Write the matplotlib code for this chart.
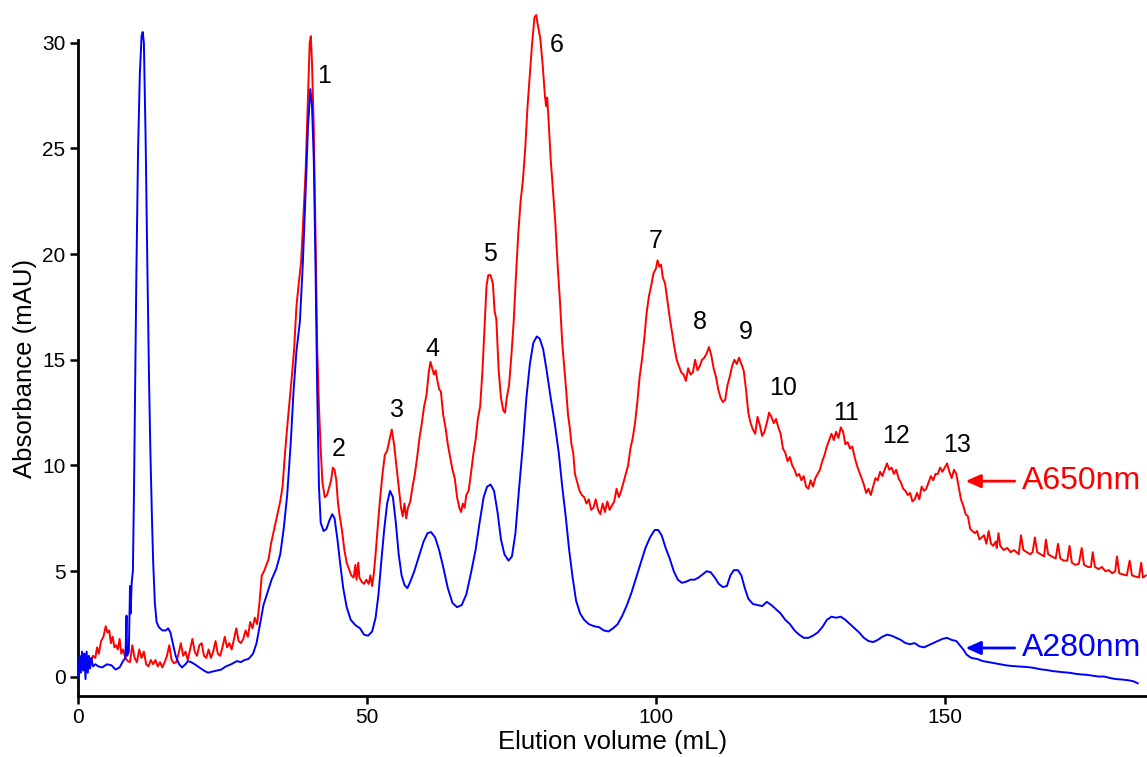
import matplotlib
matplotlib.use("Agg")
import matplotlib.pyplot as plt

plt.rcParams['font.family'] = ['Liberation Sans', 'DejaVu Sans']

# ---- A280 (blue) trace: elution volume (mL), absorbance (mAU)
blue_x = [0.0, 0.3, 0.5, 0.7, 0.9, 1.1, 1.3, 1.5, 1.7, 1.9, 2.1, 2.3, 2.6, 3.0, 3.5, 4.2, 5.0, 5.8, 6.5, 7.2,
          7.8, 8.2, 8.4, 8.5, 8.8, 9.0, 9.1, 9.3, 9.5, 9.7, 9.9, 10.1, 10.4, 10.7, 11.0, 11.2, 11.4, 11.7, 12.0, 12.3,
          12.5, 12.8, 13.0, 13.3, 13.6, 14.0, 14.6, 15.2, 15.6, 16.0, 16.4, 16.9, 17.5, 18.0, 18.6, 19.0, 19.6, 20.2, 21.0, 21.8,
          22.5, 23.2, 24.0, 24.8, 25.6, 26.5, 27.5, 28.2, 28.8, 29.5, 30.3, 30.9, 31.5, 32.1, 32.8, 33.5, 34.3, 35.0, 35.6, 36.2,
          36.8, 37.3, 37.8, 38.4, 38.9, 39.4, 39.8, 40.2, 40.5, 40.8, 41.1, 41.4, 41.7, 42.0, 42.5, 43.0, 43.5, 44.0, 44.4, 44.9,
          45.4, 45.9, 46.5, 47.2, 48.0, 48.8, 49.5, 50.2, 50.9, 51.5, 52.0, 52.5, 53.0, 53.5, 54.0, 54.5, 55.0, 55.5, 56.0, 56.5,
          57.0, 57.5, 58.2, 59.0, 59.8, 60.5, 61.1, 61.8, 62.5, 63.2, 64.0, 64.8, 65.6, 66.4, 67.2, 68.0, 68.8, 69.5, 70.2, 70.8,
          71.4, 72.0, 72.6, 73.2, 73.8, 74.5, 75.1, 75.7, 76.3, 77.0, 77.6, 78.2, 78.8, 79.4, 79.9, 80.5, 81.1, 81.8, 82.5, 83.2,
          83.8, 84.4, 85.0, 85.6, 86.2, 86.9, 87.6, 88.4, 89.3, 90.2, 91.0, 91.8, 92.6, 93.4, 94.2, 95.0, 95.8, 96.6, 97.4, 98.2,
          99.0, 99.8, 100.4, 101.0, 101.7, 102.4, 103.1, 103.8, 104.5, 105.2, 106.0, 106.7, 107.4, 108.1, 108.8, 109.5, 110.2, 110.9, 111.6, 112.3,
          112.9, 113.5, 114.2, 114.8, 115.4, 116.0, 116.8, 117.6, 118.4, 119.2, 120.0, 120.8, 121.6, 122.4, 123.2, 124.0, 124.8, 125.6, 126.4, 127.2,
          128.0, 128.8, 129.6, 130.4, 131.2, 132.0, 132.8, 133.6, 134.4, 135.2, 136.0, 136.8, 137.6, 138.4, 139.2, 140.0, 140.8, 141.6, 142.4, 143.2,
          144.0, 144.8, 145.6, 146.4, 147.2, 148.0, 148.8, 149.6, 150.4, 151.2, 152.0, 152.6, 153.2, 153.8, 154.6, 155.6, 156.6, 157.6, 158.6, 159.6,
          160.6, 161.6, 162.6, 163.6, 164.6, 165.6, 166.6, 167.6, 168.6, 169.6, 170.6, 171.6, 172.6, 173.6, 174.6, 175.6, 176.6, 177.6, 178.6, 179.6,
          180.6, 181.6, 182.6, 183.4]
blue_y = [0.0, 1.0, 0.2, 1.2, 0.3, 1.1, -0.1, 1.2, 0.2, 1.0, 0.4, 0.9, 0.5, 0.6, 0.5, 0.45, 0.6, 0.55, 0.35, 0.45,
          0.75, 0.9, 2.9, 1.0, 1.2, 4.3, 3.0, 4.5, 5.0, 9.0, 14.0, 19.0, 25.0, 28.5, 30.3, 30.5, 30.0, 25.5, 19.5, 14.0,
          11.0, 7.5, 5.5, 3.5, 2.6, 2.35, 2.2, 2.2, 2.3, 2.1, 1.6, 1.0, 0.6, 0.45, 0.6, 0.75, 0.7, 0.6, 0.45, 0.3,
          0.2, 0.25, 0.3, 0.35, 0.5, 0.6, 0.75, 0.7, 0.8, 0.85, 1.1, 1.6, 2.5, 3.4, 4.0, 4.6, 5.1, 5.8, 7.0, 8.6,
          11.0, 13.5, 15.4, 16.8, 19.5, 23.0, 26.0, 27.8, 27.0, 24.5, 19.5, 13.5, 9.0, 7.3, 6.9, 7.0, 7.4, 7.7, 7.5, 6.5,
          5.3, 4.2, 3.3, 2.7, 2.45, 2.3, 2.0, 1.95, 2.15, 2.8, 3.9, 5.5, 7.0, 8.2, 8.8, 8.5, 7.3, 5.8, 4.8, 4.35,
          4.2, 4.5, 5.0, 5.7, 6.4, 6.8, 6.85, 6.6, 6.0, 5.2, 4.2, 3.5, 3.3, 3.4, 3.9, 4.9, 6.0, 7.3, 8.5, 9.0,
          9.1, 8.8, 7.8, 6.5, 5.8, 5.5, 5.7, 6.8, 8.8, 11.0, 13.2, 14.8, 15.8, 16.1, 16.0, 15.5, 14.5, 13.2, 12.0, 10.6,
          9.0, 7.6, 6.0, 4.7, 3.6, 3.0, 2.7, 2.5, 2.4, 2.35, 2.2, 2.15, 2.3, 2.5, 2.9, 3.4, 4.0, 4.7, 5.4, 6.1,
          6.6, 6.95, 6.95, 6.7, 6.1, 5.6, 5.0, 4.6, 4.45, 4.5, 4.6, 4.6, 4.7, 4.85, 5.0, 4.95, 4.7, 4.4, 4.25, 4.3,
          4.8, 5.05, 5.05, 4.8, 4.2, 3.7, 3.45, 3.4, 3.35, 3.55, 3.4, 3.2, 3.0, 2.7, 2.5, 2.2, 2.0, 1.85, 1.85, 1.95,
          2.1, 2.35, 2.7, 2.85, 2.8, 2.85, 2.7, 2.5, 2.3, 2.1, 1.85, 1.7, 1.65, 1.75, 1.9, 2.0, 1.95, 1.85, 1.75, 1.6,
          1.55, 1.6, 1.45, 1.4, 1.5, 1.6, 1.7, 1.8, 1.85, 1.75, 1.7, 1.5, 1.3, 1.05, 0.9, 0.85, 0.75, 0.7, 0.65, 0.6,
          0.55, 0.52, 0.5, 0.48, 0.46, 0.42, 0.36, 0.33, 0.28, 0.25, 0.22, 0.2, 0.15, 0.12, 0.1, 0.06, 0.02, 0.02, -0.05, -0.1,
          -0.12, -0.15, -0.2, -0.3]

# ---- A650 (red) trace
red_x = [0.3, 0.8, 1.2, 1.5, 1.8, 2.2, 2.6, 3.0, 3.3, 3.6, 4.0, 4.4, 4.8, 5.1, 5.4, 5.7, 6.0, 6.3, 6.6, 6.9,
         7.2, 7.5, 7.8, 8.2, 8.6, 9.0, 9.4, 9.8, 10.2, 10.6, 11.0, 11.4, 11.8, 12.2, 12.6, 13.0, 13.4, 13.8, 14.2, 14.6,
         15.0, 15.4, 15.8, 16.2, 16.6, 17.0, 17.4, 17.8, 18.2, 18.6, 19.0, 19.4, 19.8, 20.2, 20.6, 21.0, 21.4, 21.8, 22.2, 22.6,
         23.0, 23.4, 23.8, 24.2, 24.6, 25.0, 25.4, 25.8, 26.2, 26.6, 27.0, 27.4, 27.8, 28.2, 28.6, 29.0, 29.4, 29.8, 30.2, 30.6,
         31.0, 31.4, 31.8, 32.2, 32.6, 33.0, 33.4, 33.8, 34.2, 34.6, 35.0, 35.4, 35.8, 36.2, 36.6, 37.0, 37.4, 37.8, 38.2, 38.6,
         39.0, 39.4, 39.8, 40.1, 40.3, 40.5, 40.8, 41.1, 41.4, 41.7, 42.0, 42.3, 42.7, 43.1, 43.5, 43.8, 44.1, 44.4, 44.7, 45.0,
         45.3, 45.7, 46.1, 46.5, 46.9, 47.3, 47.7, 48.0, 48.2, 48.5, 48.7, 49.1, 49.5, 49.9, 50.3, 50.6, 50.9, 51.2, 51.5, 51.9,
         52.3, 52.7, 53.1, 53.5, 53.9, 54.3, 54.7, 55.1, 55.5, 55.9, 56.2, 56.5, 56.8, 57.1, 57.5, 57.9, 58.3, 58.7, 59.1, 59.5,
         59.9, 60.3, 60.7, 61.0, 61.3, 61.6, 61.9, 62.2, 62.5, 62.8, 63.2, 63.6, 64.0, 64.4, 64.8, 65.2, 65.6, 66.0, 66.3, 66.6,
         66.9, 67.2, 67.6, 68.0, 68.4, 68.8, 69.2, 69.6, 70.0, 70.4, 70.7, 71.0, 71.4, 71.8, 72.1, 72.4, 72.8, 73.2, 73.6, 73.9,
         74.2, 74.6, 75.0, 75.4, 75.8, 76.2, 76.6, 77.0, 77.4, 77.8, 78.2, 78.6, 79.0, 79.3, 79.6, 80.0, 80.4, 80.8, 81.0, 81.2,
         81.4, 81.8, 82.2, 82.6, 83.0, 83.4, 83.8, 84.2, 84.5, 84.8, 85.1, 85.4, 85.7, 86.0, 86.4, 86.8, 87.2, 87.6, 88.0, 88.4,
         88.8, 89.2, 89.6, 90.0, 90.4, 90.8, 91.2, 91.6, 92.0, 92.4, 92.8, 93.2, 93.6, 94.0, 94.4, 94.8, 95.2, 95.6, 96.0, 96.4,
         96.8, 97.2, 97.6, 98.0, 98.4, 98.8, 99.2, 99.6, 100.0, 100.3, 100.6, 100.9, 101.2, 101.6, 102.0, 102.4, 102.8, 103.2, 103.6, 104.0,
         104.4, 104.8, 105.2, 105.6, 106.0, 106.4, 106.8, 107.2, 107.6, 108.0, 108.4, 108.8, 109.2, 109.6, 110.0, 110.4, 110.8, 111.2, 111.6, 112.0,
         112.4, 112.8, 113.2, 113.6, 114.0, 114.4, 114.8, 115.2, 115.6, 116.0, 116.4, 116.8, 117.2, 117.6, 118.0, 118.4, 118.8, 119.2, 119.6, 120.0,
         120.4, 120.8, 121.2, 121.6, 122.0, 122.4, 122.8, 123.2, 123.6, 124.0, 124.4, 124.8, 125.2, 125.6, 126.0, 126.4, 126.8, 127.2, 127.6, 128.0,
         128.4, 128.8, 129.2, 129.6, 130.0, 130.4, 130.8, 131.2, 131.6, 132.0, 132.4, 132.8, 133.2, 133.6, 134.0, 134.4, 134.8, 135.2, 135.6, 136.0,
         136.4, 136.8, 137.2, 137.6, 138.0, 138.4, 138.8, 139.2, 139.6, 140.0, 140.4, 140.8, 141.2, 141.6, 142.0, 142.4, 142.8, 143.2, 143.6, 144.0,
         144.4, 144.8, 145.2, 145.6, 146.0, 146.4, 146.8, 147.2, 147.6, 148.0, 148.4, 148.8, 149.2, 149.6, 150.0, 150.4, 150.8, 151.2, 151.6, 152.0,
         152.4, 152.8, 153.2, 153.6, 154.0, 154.4, 154.8, 155.2, 155.6, 156.0, 156.4, 156.8, 157.2, 157.6, 158.0, 158.4, 158.8, 159.0, 159.3, 159.6,
         160.2, 160.8, 161.4, 162.0, 162.8, 163.2, 163.6, 164.2, 164.8, 165.2, 165.6, 166.0, 166.6, 167.2, 167.5, 167.9, 168.5, 169.2, 169.6, 170.0,
         170.6, 171.2, 171.6, 172.0, 172.6, 173.2, 173.7, 174.1, 174.8, 175.3, 175.6, 176.0, 176.6, 177.2, 177.8, 178.4, 179.0, 179.5, 179.8, 180.2,
         180.8, 181.5, 182.0, 182.4, 183.0, 183.6, 184.0, 184.3, 184.8]
red_y = [0.9, 0.6, 1.1, 0.3, 0.9, 0.7, 1.0, 0.9, 1.4, 1.1, 1.7, 1.9, 2.4, 2.1, 2.2, 1.6, 1.9, 1.4, 1.5, 1.3,
         1.8, 1.1, 1.3, 0.9, 0.75, 0.7, 1.5, 0.9, 0.7, 1.3, 0.9, 1.2, 0.6, 0.5, 0.8, 0.6, 0.8, 0.5, 0.7, 0.45,
         0.7, 1.0, 1.5, 0.8, 0.65, 0.7, 1.1, 1.6, 1.0, 1.2, 0.8, 1.3, 1.8, 1.2, 1.0, 1.5, 1.6, 1.0, 0.9, 1.3,
         0.9, 1.2, 1.7, 1.1, 1.0, 1.4, 1.9, 1.4, 1.6, 1.3, 1.8, 2.3, 1.7, 1.6, 1.8, 2.2, 1.9, 2.6, 2.3, 2.8,
         2.5, 3.5, 4.8, 5.0, 5.3, 5.6, 6.3, 6.8, 7.3, 7.8, 8.3, 9.0, 10.5, 11.8, 13.0, 14.2, 15.5, 17.5, 18.6, 19.6,
         21.7, 24.0, 27.5, 30.0, 30.3, 29.0, 26.0, 21.0, 15.5, 12.8, 10.8, 9.2, 8.5, 8.6, 9.0, 9.3, 9.9, 9.8, 9.3, 8.2,
         7.6, 6.9, 6.0, 5.4, 5.1, 4.8, 4.7, 5.3, 4.6, 5.4, 4.7, 4.5, 4.4, 4.6, 4.4, 4.8, 4.3, 4.9, 5.8, 7.2,
         8.5, 9.6, 10.5, 10.7, 11.2, 11.7, 11.0, 10.0, 9.0, 8.0, 7.6, 8.2, 7.5, 8.0, 8.3, 9.0, 9.6, 10.4, 11.3, 12.0,
         12.8, 13.3, 14.4, 14.9, 14.6, 14.3, 14.5, 14.0, 13.6, 13.5, 12.4, 11.8, 11.0, 10.4, 9.8, 9.4, 8.5, 8.0, 7.8, 8.2,
         8.0, 8.6, 8.8, 9.6, 10.5, 11.2, 12.2, 12.8, 14.5, 16.8, 18.5, 19.0, 19.0, 18.6, 17.3, 16.9, 14.5, 13.2, 12.6, 12.5,
         13.2, 13.8, 15.2, 16.8, 19.0, 21.0, 22.5, 23.5, 25.0, 27.0, 28.5, 30.0, 31.2, 31.3, 30.8, 30.2, 29.0, 27.5, 27.0, 27.4,
         26.5, 24.5, 23.0, 21.5, 19.5, 17.8, 15.8, 14.5, 13.5, 12.4, 11.8, 11.0, 10.6, 9.6, 9.2, 8.8, 8.6, 8.5, 8.2, 8.4,
         7.9, 8.0, 8.4, 7.9, 7.7, 8.2, 7.8, 8.3, 7.9, 8.1, 8.3, 8.9, 8.5, 8.8, 9.2, 9.6, 10.0, 10.8, 11.3, 12.0,
         13.0, 14.2, 15.0, 16.0, 17.2, 18.0, 18.5, 19.1, 19.3, 19.7, 19.4, 19.5, 18.9, 18.6, 17.8, 17.0, 16.3, 15.6, 15.0, 14.7,
         14.4, 14.3, 14.0, 14.6, 14.3, 14.4, 15.0, 14.5, 14.7, 15.0, 15.1, 15.3, 15.6, 15.2, 14.6, 14.2, 13.6, 13.2, 13.0, 13.1,
         13.8, 14.2, 14.7, 15.0, 14.8, 15.1, 14.8, 14.5, 13.6, 12.5, 12.0, 11.7, 11.5, 12.3, 11.9, 11.4, 11.6, 12.0, 12.5, 12.3,
         12.0, 12.2, 11.8, 11.5, 10.8, 10.6, 10.2, 10.4, 10.0, 9.8, 9.5, 9.6, 9.3, 9.5, 9.0, 8.9, 9.3, 9.0, 9.4, 9.6,
         9.8, 10.2, 10.5, 10.9, 11.2, 11.5, 11.2, 11.6, 11.3, 11.8, 11.6, 11.0, 11.1, 10.8, 10.9, 10.4, 10.0, 9.7, 9.4, 9.1,
         8.7, 8.9, 8.6, 9.0, 9.4, 9.3, 9.7, 9.5, 9.8, 10.1, 9.8, 9.9, 9.6, 9.8, 9.4, 9.2, 8.9, 8.8, 8.6, 8.7,
         8.3, 8.4, 8.7, 8.4, 9.0, 8.8, 8.9, 9.2, 9.5, 9.3, 9.6, 9.6, 9.9, 9.7, 9.9, 10.1, 9.7, 9.4, 9.8, 9.6,
         9.0, 8.4, 8.1, 7.7, 7.6, 7.0, 6.9, 6.8, 6.9, 6.5, 6.6, 6.7, 6.3, 6.9, 6.3, 6.2, 6.4, 6.1, 6.8, 6.2,
         6.0, 6.1, 5.9, 6.0, 5.8, 6.7, 6.0, 5.9, 5.8, 5.9, 6.6, 5.9, 5.8, 5.7, 6.5, 5.8, 5.7, 5.6, 6.3, 5.6,
         5.5, 5.5, 6.2, 5.4, 5.3, 5.35, 6.1, 5.3, 5.2, 5.2, 5.9, 5.2, 5.1, 5.2, 5.0, 5.05, 4.9, 5.0, 5.7, 4.9,
         4.85, 4.8, 5.5, 4.8, 4.75, 4.7, 5.4, 4.7, 4.8]

# ---- peak labels
peak_labels = ['1', '2', '3', '4', '5', '6', '7', '8', '9', '10', '11', '12', '13']
peak_label_x = [42.6, 45.2, 55.2, 61.4, 71.3, 82.9, 100.0, 107.6, 115.6, 122.0, 132.9, 141.5, 152.2]
peak_label_y = [28.4, 10.8, 12.6, 15.5, 20.0, 29.9, 20.6, 16.8, 16.3, 13.65, 12.5, 11.4, 10.96]

trace_names = ['A650nm', 'A280nm']
trace_label_y = [9.26, 1.37]

x_ticks = [0, 50, 100, 150]
y_ticks = [0, 5, 10, 15, 20, 25, 30]

RED = '#ff0000'
BLUE = '#0000ff'

fig = plt.figure(figsize=(11.47, 7.57), dpi=100)
ax = fig.add_axes([0.068, 0.0806, 0.932, 0.866])

ax.plot(red_x, red_y, color=RED, lw=1.4, clip_on=False, zorder=2)
ax.plot(blue_x, blue_y, color=BLUE, lw=1.4, clip_on=False, zorder=3)

for lab, lx, ly in zip(peak_labels, peak_label_x, peak_label_y):
    ax.text(lx, ly, lab, fontsize=18, ha='center', va='center', color='black')

for name, ty, col in zip(trace_names, trace_label_y, [RED, BLUE]):
    ax.annotate('', xy=(153.6, ty), xytext=(162.1, ty),
                arrowprops=dict(arrowstyle='-|>,head_length=0.9,head_width=0.4', color=col, lw=2.0,
                                shrinkA=0, shrinkB=0))
    ax.text(163.3, ty, name, fontsize=23, color=col, ha='left', va='center')

ax.set_xlim(0, 185)
ax.set_ylim(-0.9, 30.1)
ax.set_xticks(x_ticks)
ax.set_yticks(y_ticks)
ax.tick_params(axis='both', labelsize=15, width=1.8, length=6, direction='out', pad=3)
for side in ['top', 'right']:
    ax.spines[side].set_visible(False)
for side in ['left', 'bottom']:
    ax.spines[side].set_linewidth(2.0)

ax.set_xlabel('Elution volume (mL)', fontsize=18.5, labelpad=2)
ax.set_ylabel('Absorbance (mAU)', fontsize=18.5, labelpad=4)

fig.savefig('out.png', dpi=100)
